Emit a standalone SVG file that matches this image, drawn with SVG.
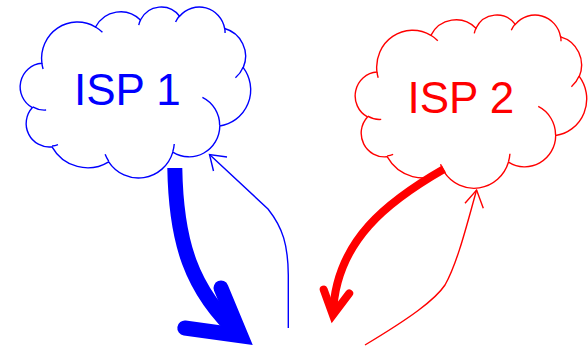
<svg xmlns="http://www.w3.org/2000/svg" width="588" height="347" viewBox="0 0 588 347">
  <style>
    .outline { fill: #ffffff; stroke-width: 1.4; vector-effect: non-scaling-stroke; }
    .tick { fill: none; stroke-width: 1.4; vector-effect: non-scaling-stroke; }
    .label { font-family: "Liberation Sans", Arial, sans-serif; font-size: 44px; }
    .thick { fill: none; stroke-linecap: butt; }
    .head { fill: none; stroke-linejoin: miter; stroke-linecap: round; stroke-miterlimit: 10; }
    .thin { fill: none; stroke-width: 1.4; }
    .thinhead { fill: none; stroke-width: 1.4; stroke-linejoin: miter; stroke-miterlimit: 10; }
  </style>
  <defs>
    <!-- Cloud outline on a 43200 x 43200 grid, with the inner bump ticks -->
    <g id="cloud">
      <path class="outline" d="M3900,14370 A6753,9190 0 0 1 14004.6,5201.7 A5333,7267 0 0 1 22456.5,3430 A4365,5945 0 0 1 29834.5,2480 A4857,6595 0 0 1 38319.3,5575.9 A5333,7273 0 0 1 41819.7,15459.7 A6775,9220 0 0 1 37404.5,30200.7 A5785,7867 0 0 1 28556.5,36811.3 A6752,9215 0 0 1 16481.3,39263.3 A7720,10543 0 0 1 5807.1,35474.7 A4360,5918 0 0 1 2114.7,25554.7 A4345,5945 0 0 1 3900,14370 Z"/>
      <path class="tick" d="M4693,26177 A4345,5945 0 0 1 2159.1,25379.3 M6928,34899 A4360,5918 0 0 1 5819.7,35280.4 M16478,39090 A6752,9215 0 0 1 15809.9,37349.4 M28827,34751 A6752,9215 0 0 1 28560.4,36660 M34129,22954 A5785,7867 0 0 1 37380.7,30089.8 M41798,15354 A5333,7273 0 0 1 40348.8,18031.4 M38324,5426 A4857,6595 0 0 1 38400.4,6689.5 M29078,3952 A4857,6595 0 0 1 29820.4,2338.8 M22141,4720 A4365,5945 0 0 1 22500,3330.7 M14000,5192 A6753,9190 0 0 1 15300.9,6541.7 M4127,15789 A6753,9190 0 0 1 3900.5,14371.4"/>
    </g>
  </defs>

  <g id="isp1">
    <use href="#cloud" stroke="#0000ff" transform="translate(21.18,6.45) scale(0.00531,0.003957)"/>
    <text class="label" x="74" y="105" fill="#0000ff">ISP 1</text>
  </g>

  <g id="isp2">
    <use href="#cloud" stroke="#ff0000" transform="translate(356.18,14.45) scale(0.005334,0.00401)"/>
    <text class="label" x="407.5" y="113.3" fill="#ff0000">ISP 2</text>
  </g>

  <g id="connectors">
    <!-- heavy blue flow out of ISP 1 -->
    <path class="thick" d="M174.8,168 C176,240 190,290 240.8,335.8" stroke="#0000ff" stroke-width="15"/>
    <polyline class="head" points="221,288 240.8,335.8 184.8,328" stroke="#0000ff" stroke-width="15"/>
    <!-- light blue flow back into ISP 1 -->
    <path class="thin" d="M288.3,328 L288.3,275 C288,245 283,228 268,209 L209.5,154.5" stroke="#0000ff"/>
    <polyline class="thinhead" points="227,157 209.5,154.5 213.5,171" stroke="#0000ff"/>
    <!-- heavy red flow out of ISP 2 -->
    <path class="thick" d="M444,169 C390,200 335,240 333,315" stroke="#ff0000" stroke-width="8"/>
    <polyline class="head" points="323.7,289.6 332.9,315 349.2,293.4" stroke="#ff0000" stroke-width="8"/>
    <!-- light red flow back into ISP 2 -->
    <path class="thin" d="M365,345 C410,318 435,300 445,285 C458,262 468,220 476.6,190" stroke="#ff0000"/>
    <polyline class="thinhead" points="465,203.3 476.6,190 483.3,208.3" stroke="#ff0000"/>
  </g>
</svg>
